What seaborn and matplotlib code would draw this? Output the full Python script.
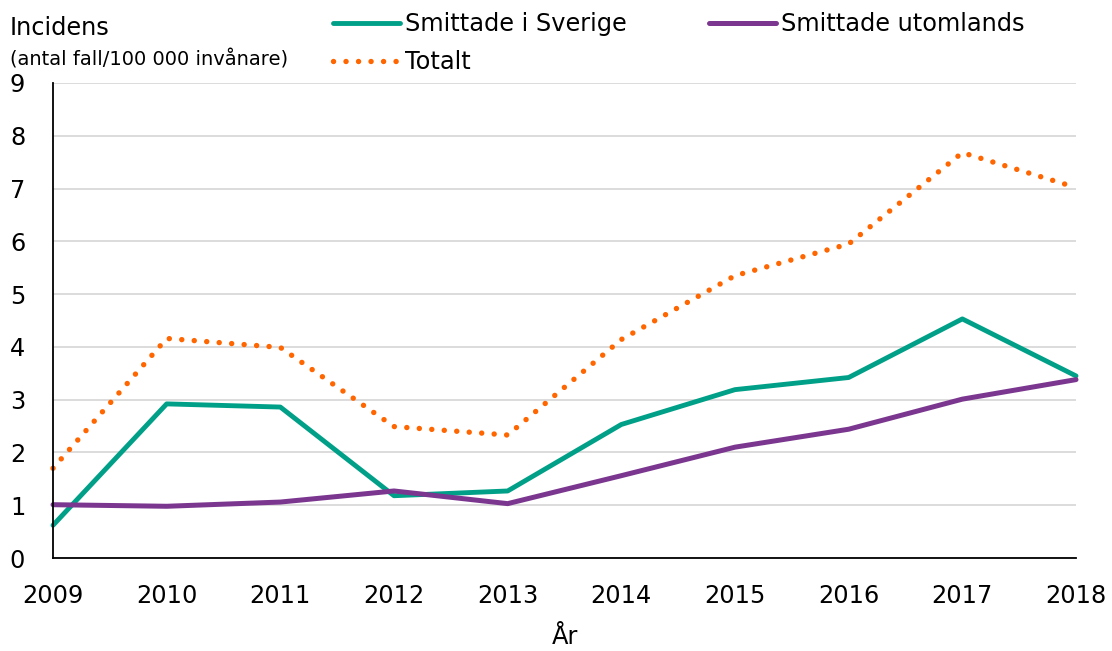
import pandas as pd
import numpy as np
import matplotlib
matplotlib.use('Agg')
import matplotlib.pyplot as plt
import seaborn as sns

#data
years = [2009, 2010, 2011, 2012, 2013, 2014, 2015, 2016, 2017, 2018]
sverige = [0.62, 2.92, 2.86, 1.18, 1.27, 2.53, 3.19, 3.42, 4.53, 3.45]
utomlands = [1.01, 0.98, 1.06, 1.27, 1.03, 1.56, 2.10, 2.44, 3.01, 3.38]
totalt = [1.70, 4.16, 3.99, 2.49, 2.33, 4.14, 5.35, 5.95, 7.68, 7.02]

sns.set_style('white')
plt.rcParams['font.family'] = ['DejaVu Sans']
plt.rcParams['text.color'] = 'black'
plt.rcParams['axes.labelcolor'] = 'black'

df = pd.DataFrame({'Ar': years, 'sverige': sverige, 'utomlands': utomlands, 'totalt': totalt})

fig = plt.figure(figsize=(11.12, 6.51), dpi=100)
ax = fig.add_axes([53/1112, 1-558/651, (1076-53)/1112, (558-83)/651])

#horizontal gridlines
ax.yaxis.grid(True, color='#D9D9D9', linewidth=1.3)
ax.xaxis.grid(False)
ax.set_axisbelow(True)

sns.lineplot(data=df, x='Ar', y='sverige', ax=ax, color='#00A088', linewidth=3.5,
             label='Smittade i Sverige', clip_on=False)
sns.lineplot(data=df, x='Ar', y='utomlands', ax=ax, color='#7B378F', linewidth=3.6,
             label='Smittade utomlands', clip_on=False)
sns.lineplot(data=df, x='Ar', y='totalt', ax=ax, color='#FF6600', linewidth=3.9,
             linestyle=(0, (0.01, 2.3)), dash_capstyle='round',
             label='Totalt', clip_on=False)

ax.set_xlim(2009, 2018)
ax.set_ylim(0, 9)
ax.set_xticks(years)
ax.set_yticks(range(0, 10))
ax.set_ylabel('')
ax.set_xlabel('År', fontsize=17.3, labelpad=12)

sns.despine(ax=ax)
for s in ['left', 'bottom']:
    ax.spines[s].set_color('black')
    ax.spines[s].set_linewidth(1.3)
ax.tick_params(axis='both', which='major', direction='out', length=7, width=1.3,
               color='black', labelsize=17.3, labelcolor='black')
ax.tick_params(axis='y', pad=13)
ax.tick_params(axis='x', pad=12)
ax.set_zorder(1)

#legend laid out in two columns on top
h, l = ax.get_legend_handles_labels()
ax.get_legend().remove()
order = [0, 2, 1]
fig.legend([h[i] for i in order], [l[i] for i in order], loc='upper left',
           bbox_to_anchor=(333/1112, 1-12/651), ncol=2, frameon=False, fontsize=17.3,
           borderpad=0, borderaxespad=0, handlelength=2.8, handletextpad=0.2,
           columnspacing=3.4, labelspacing=0.6)

fig.text(10/1112, 1-35/651, 'Incidens', fontsize=17.3, va='baseline', ha='left')
fig.text(10/1112, 1-65/651, '(antal fall/100 000 invånare)', fontsize=14, va='baseline', ha='left')

plt.savefig('out.png', dpi=100)
